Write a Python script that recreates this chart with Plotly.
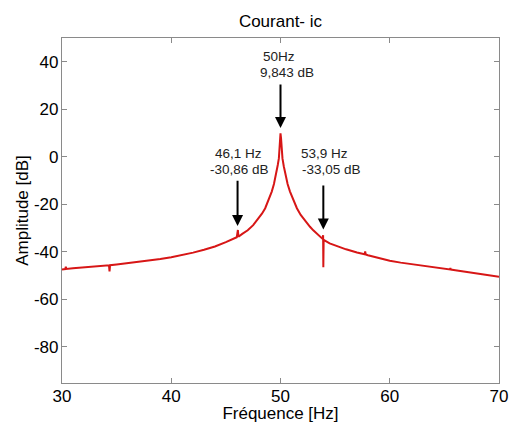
import plotly.graph_objects as go

# Spectrum of current ic
freq_hz = [30.0, 30.3, 30.35, 30.4, 31.0, 32.0, 33.0, 34.0, 34.3, 34.35, 34.4, 35.0, 36.0, 37.0,
           38.0, 39.0, 40.0, 41.0, 42.0, 43.0, 44.0, 45.0, 45.5, 46.0, 46.1, 46.15, 46.5,
           47.0, 47.5, 48.0, 48.3, 48.6, 48.9, 49.2, 49.4, 49.6, 49.75, 49.85, 49.9,
           49.95, 50.0, 50.05, 50.1, 50.18, 50.3, 50.45, 50.65, 50.87, 51.15, 51.5, 51.85,
           52.25, 52.7, 53.0, 53.5, 53.85, 53.9, 53.92, 53.95, 54.5, 55.0,
           56.0, 57.0, 57.7, 57.75, 57.8, 58.0, 59.0, 60.0, 61.0, 62.0, 63.0, 64.0, 65.0,
           65.5, 65.55, 65.6, 66.0, 67.0, 68.0, 69.0, 70.0]
amp_db = [-47.5, -47.3, -46.3, -47.3, -47.0, -46.6, -46.2, -45.8, -45.7, -48.3, -45.7, -45.4, -44.9, -44.3,
          -43.7, -43.1, -42.3, -41.4, -40.4, -39.2, -37.8, -36.0, -35.0, -33.9, -30.86, -33.7, -32.5,
          -31.0, -28.8, -26.0, -24.0, -21.7, -18.3, -14.7, -11.5, -7.7, -3.5, -0.7, 3.0,
          7.7, 9.843, 7.7, 3.0, -0.7, -4.0, -7.7, -11.5, -14.7, -18.2, -21.7, -24.5,
          -27.0, -29.5, -31.0, -33.2, -34.6, -33.05, -46.5, -35.0, -36.5, -37.4,
          -39.0, -40.3, -41.1, -39.9, -41.2, -41.5, -42.7, -43.8, -44.6, -45.3, -46.0, -46.6, -47.2,
          -47.5, -46.9, -47.5, -47.8, -48.5, -49.2, -49.9, -50.6]

x_ticks = [30, 40, 50, 60, 70]
y_ticks = [40, 20, 0, -20, -40, -60, -80]

# peak markers: arrow position, arrow tail / tip, two text lines and their positions
mark_freq = [50.0, 46.07, 53.92]
mark_tail = [31.0, -9.5, -11.5]
mark_tip = [12.1, -29.2, -30.6]
mark_line1 = ["50Hz", "46,1 Hz", "53,9 Hz"]
mark_line2 = ["9,843 dB", "-30,86 dB", "-33,05 dB"]
mark_x1 = [49.9, 46.14, 54.05]
mark_x2 = [50.6, 46.22, 54.71]
mark_y1 = [42.2, 1.4, 1.4]
mark_y2 = [35.5, -5.3, -5.3]

FONT = "Liberation Sans, Arial, Helvetica, sans-serif"

fig = go.Figure()
fig.add_trace(go.Scatter(x=freq_hz, y=amp_db, mode="lines",
                         line=dict(color="rgb(215,22,22)", width=2),
                         showlegend=False, hoverinfo="skip"))

annotations = []
for i in range(len(mark_freq)):
    annotations.append(dict(x=mark_freq[i], y=mark_tip[i], ax=mark_freq[i], ay=mark_tail[i],
                            xref="x", yref="y", axref="x", ayref="y", text="",
                            showarrow=True, arrowhead=2, arrowsize=1.1, arrowwidth=2,
                            arrowcolor="black", standoff=0))
    annotations.append(dict(x=mark_x1[i], y=mark_y1[i], xref="x", yref="y", text=mark_line1[i],
                            showarrow=False, font=dict(family=FONT, size=13.5, color="#222")))
    annotations.append(dict(x=mark_x2[i], y=mark_y2[i], xref="x", yref="y", text=mark_line2[i],
                            showarrow=False, font=dict(family=FONT, size=13.5, color="#222")))

axis_common = dict(showline=True, linecolor="#8a8a8a", linewidth=1.2, mirror="ticks",
                   ticks="inside", ticklen=5, tickcolor="#8a8a8a", showgrid=False,
                   zeroline=False, automargin=False,
                   tickfont=dict(family=FONT, size=17, color="black"))

fig.update_layout(
    width=509, height=423,
    margin=dict(l=62, r=10, t=38, b=40, autoexpand=False),
    paper_bgcolor="white", plot_bgcolor="white",
    title=dict(text="Courant- ic", x=0.551, xanchor="center", y=0.95, yanchor="middle",
               yref="container", font=dict(family=FONT, size=17, color="black")),
    xaxis=dict(range=[30, 70], tickvals=x_ticks, ticktext=[str(v) for v in x_ticks],
               ticklabelstandoff=-3,
               title=dict(text="Fréquence [Hz]", standoff=3,
                          font=dict(family=FONT, size=17, color="black")),
               **axis_common),
    yaxis=dict(range=[-95.3, 50], tickvals=y_ticks, ticktext=[str(v) for v in y_ticks],
               ticklabelstandoff=-1,
               title=dict(text="Amplitude [dB]", standoff=0,
                          font=dict(family=FONT, size=17, color="black")),
               **axis_common),
    annotations=annotations,
)

fig.write_html("out.html", config={"displayModeBar": False},
               post_script="document.body.style.margin='0';document.body.style.overflow='hidden';")
